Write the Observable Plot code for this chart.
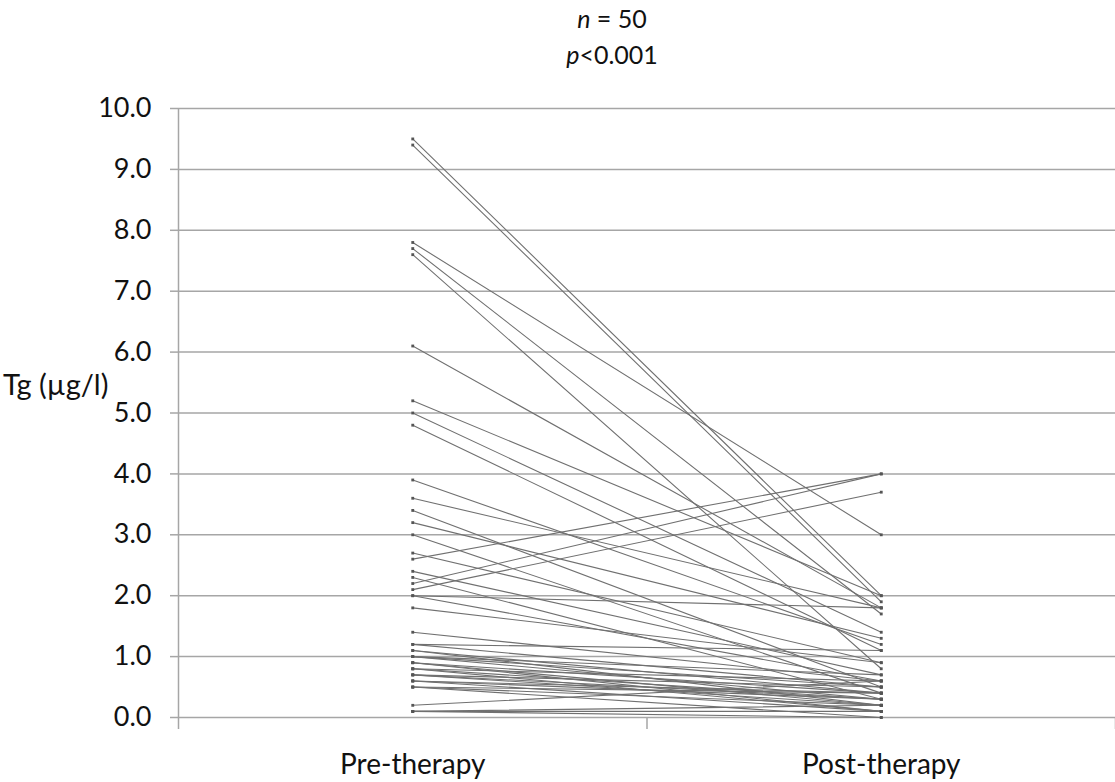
<!DOCTYPE html>
<html><head><meta charset="utf-8">
<script src="https://cdn.jsdelivr.net/npm/d3@7"></script>
<script src="https://cdn.jsdelivr.net/npm/@observablehq/plot@0.6"></script>
<style>
body{margin:0;background:#fff;font-family:Lato,"Open Sans",sans-serif;color:#111;}
#wrap{position:relative;width:1115px;height:782px;overflow:hidden;}
#title{position:absolute;left:462px;top:0px;width:300px;text-align:center;font-size:25px;line-height:36px;}
#ylabel{position:absolute;left:3px;top:366px;font-size:29px;white-space:nowrap;}
#chart{position:absolute;left:0;top:90px;}
</style>
</head><body>
<div id="wrap">
  <div id="title"><div><i>n</i> = 50</div><div><i>p</i>&lt;0.001</div></div>
  <div id="ylabel">Tg (µg/l)</div>
  <div id="chart"></div>
</div>
<script>
const categories = ["Pre-therapy", "Post-therapy"];
const preValues = [9.5, 9.4, 7.8, 7.7, 7.6, 6.1, 5.2, 5.0, 4.8, 3.9,
                   3.6, 3.4, 3.2, 3.0, 2.7, 2.6, 2.4, 2.3, 2.2, 2.1,
                   2.0, 2.0, 1.8, 1.4, 1.2, 1.2, 1.1, 1.1, 1.0, 1.0,
                   0.9, 0.9, 0.8, 0.8, 0.7, 0.7, 0.6, 0.6, 0.5, 0.5,
                   0.5, 0.2, 0.1, 0.1, 0.1, 1.0, 0.8, 0.6, 0.9, 0.7];
const postValues = [2.0, 1.9, 3.0, 1.7, 0.8, 1.8, 2.0, 1.4, 1.1, 1.2,
                    1.8, 0.5, 1.3, 0.4, 0.9, 4.0, 0.7, 0.3, 4.0, 3.7,
                    1.8, 0.6, 0.9, 0.6, 1.1, 0.5, 0.4, 0.2, 0.3, 0.5,
                    0.2, 0.4, 0.1, 0.3, 0.2, 0.5, 0.1, 0.3, 0.4, 0.2,
                    0.0, 0.6, 0.1, 0.0, 0.2, 0.7, 0.6, 0.4, 0.1, 0.3];
const yTicks = [0, 1, 2, 3, 4, 5, 6, 7, 8, 9, 10];

const long = preValues.flatMap((v, i) => [
  {id: i, cat: categories[0], y: v},
  {id: i, cat: categories[1], y: postValues[i]}
]).map(d => ({...d, x: categories.indexOf(d.cat) + 0.5}));

const grid = "#a6a6a6";
const chart = Plot.plot({
  width: 1115, height: 692,
  marginTop: 18, marginLeft: 178, marginRight: 0, marginBottom: 65,
  style: {fontFamily: "Lato, 'Open Sans', sans-serif", fontSize: "27px", color: "#111", background: "transparent"},
  x: {domain: [0, 2]},
  y: {domain: [0, 10]},
  marks: [
    Plot.ruleY(yTicks, {stroke: grid, strokeWidth: 1.5}),
    Plot.ruleX([0], {stroke: grid, strokeWidth: 1.5}),
    Plot.axisY({ticks: yTicks, tickFormat: d => d.toFixed(1), tickSize: 8, tickPadding: 19, stroke: grid, strokeWidth: 1.5, fill: "#111", fontSize: 27, label: null}),
    Plot.axisX({ticks: [0, 1, 2], tickFormat: () => "", tickSize: 12, stroke: grid, strokeWidth: 1.5, label: null}),
    Plot.axisX({ticks: [0.5, 1.5], tickFormat: d => categories[Math.round(d - 0.5)], tickSize: 0, tickPadding: 37, fill: "#111", fontSize: 28, label: null}),
    Plot.line(long, {x: "x", y: "y", z: "id", stroke: "#707070", strokeWidth: 1.1}),
    Plot.dot(long, {x: "x", y: "y", symbol: "square", r: 1.6, fill: "#555", stroke: "none"})
  ]
});
document.getElementById("chart").appendChild(chart);
</script>
</body></html>
